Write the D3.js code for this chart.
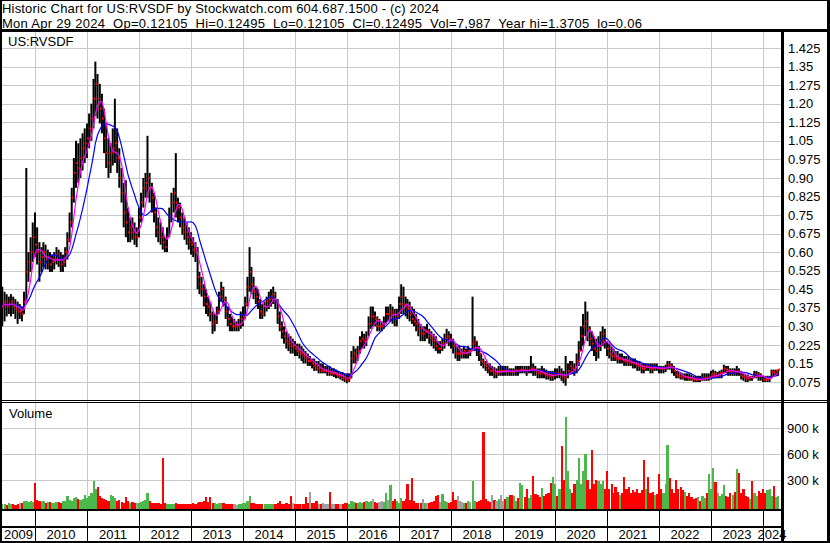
<!DOCTYPE html>
<html><head><meta charset="utf-8">
<script src="https://cdn.jsdelivr.net/npm/d3@7"></script>
<style>body{margin:0;background:#fff}svg{display:block;font-family:"Liberation Sans",Arial,sans-serif}</style>
</head><body><svg id="c" width="830" height="543"></svg>
<script>
const title1 = "Historic Chart for US:RVSDF by Stockwatch.com 604.687.1500 - (c) 2024";
const title2 = "Mon Apr 29 2024  Op=0.12105  Hi=0.12495  Lo=0.12105  Cl=0.12495  Vol=7,987  Year hi=1.3705  lo=0.06";
const symbol = "US:RVSDF";
const volumeTitle = "Volume";
const years = [2009,2010,2011,2012,2013,2014,2015,2016,2017,2018,2019,2020,2021,2022,2023,2024];
const priceTicks = [0.075,0.15,0.225,0.30,0.375,0.45,0.525,0.60,0.675,0.75,0.825,0.90,0.975,1.05,1.125,1.20,1.275,1.35,1.425];
const priceTickLabels = ["0.075","0.15","0.225","0.30","0.375","0.45","0.525","0.60","0.675","0.75","0.825","0.90","0.975","1.05","1.125","1.20","1.275","1.35","1.425"];
const volTicks = [300,600,900];
const volTickLabels = ["300 k","600 k","900 k"];
// half-month periods from 2009-05-16 to 2024-04-16
const firstPeriod = [2009, 4, 16];
const lastPeriod = [2024, 3, 16];

const high = [
.46,.44,.43,.42,.43,.42,.41,.40,.39,.38,.44,.94,.60,.66,.72,
.76,.70,.64,.62,.64,.63,.61,.60,.59,.60,.62,.61,.60,.59,.62,.68,.76,.86,.98,1.05,1.04,1.06,1.08,1.10,
1.12,1.16,1.20,1.30,1.37,1.32,1.28,1.24,1.18,1.12,1.06,1.04,1.10,1.22,1.10,1.02,.94,.88,.89,.78,.74,.74,.72,.70,
.78,.84,.90,.92,1.07,.92,.88,.84,.78,.74,.72,.70,.66,.70,.78,.84,.86,1.00,.82,.80,.76,.74,.72,.70,
.68,.66,.64,.62,.52,.50,.47,.45,.42,.40,.36,.35,.38,.44,.48,.46,.42,.38,.35,.34,.33,.32,.33,.36,
.38,.42,.50,.62,.54,.50,.46,.45,.41,.39,.40,.42,.44,.45,.46,.44,.41,.36,.32,.30,.28,.27,.26,.25,
.24,.23,.23,.22,.21,.20,.19,.18,.17,.17,.16,.16,.15,.15,.14,.14,.14,.13,.13,.125,.12,.115,.115,.11,
.11,.11,.20,.22,.21,.22,.26,.28,.27,.28,.34,.38,.38,.36,.34,.33,.32,.34,.38,.38,.39,.38,.37,.37,
.42,.47,.46,.42,.41,.40,.38,.37,.35,.33,.31,.30,.30,.31,.29,.28,.27,.26,.24,.24,.25,.27,.29,.28,
.27,.25,.23,.22,.22,.21,.22,.21,.22,.21,.42,.26,.24,.22,.19,.17,.16,.15,.15,.14,.135,.13,.14,.14,
.14,.14,.14,.13,.13,.13,.14,.14,.14,.14,.14,.14,.14,.18,.15,.14,.13,.13,.14,.13,.125,.12,.12,.12,
.13,.13,.14,.13,.12,.18,.15,.16,.16,.15,.19,.24,.30,.35,.40,.36,.30,.28,.26,.25,.26,.28,.30,.29,
.24,.23,.22,.21,.20,.20,.19,.19,.18,.18,.18,.17,.17,.17,.16,.16,.15,.15,.15,.15,.15,.15,.15,.15,
.14,.14,.14,.145,.16,.16,.15,.14,.12,.12,.115,.11,.11,.11,.11,.105,.10,.10,.10,.10,.11,.11,.11,.11,
.12,.125,.12,.115,.12,.125,.145,.14,.14,.13,.13,.13,.14,.13,.12,.11,.105,.105,.10,.10,.12,.12,.115,.11,
.10,.10,.10,.10,.125,.125,.125,.125];
const low = [
.30,.32,.34,.35,.34,.35,.33,.31,.33,.32,.35,.40,.48,.52,.56,
.58,.55,.48,.52,.54,.53,.53,.52,.52,.53,.55,.54,.52,.52,.54,.57,.64,.70,.80,.86,.88,.90,.93,.96,
.98,1.02,1.05,1.10,1.15,1.14,1.12,1.08,1.00,.94,.90,.92,.95,.96,.92,.86,.80,.70,.66,.64,.64,.65,.63,.62,
.66,.72,.78,.82,.82,.80,.76,.72,.66,.64,.63,.61,.60,.60,.66,.72,.76,.74,.72,.70,.67,.65,.63,.61,
.59,.58,.56,.45,.43,.42,.38,.35,.34,.32,.27,.28,.31,.35,.40,.38,.33,.30,.28,.28,.28,.28,.28,.29,
.30,.33,.38,.44,.43,.41,.39,.37,.33,.33,.34,.36,.37,.38,.39,.37,.31,.28,.25,.23,.21,.20,.19,.19,
.18,.18,.17,.16,.15,.15,.14,.14,.13,.12,.12,.11,.11,.11,.11,.10,.10,.10,.095,.09,.09,.085,.08,.075,
.07,.075,.09,.15,.15,.16,.19,.21,.21,.22,.26,.29,.30,.30,.28,.28,.28,.29,.31,.32,.32,.31,.30,.30,
.33,.35,.35,.34,.33,.32,.31,.30,.28,.26,.24,.24,.24,.25,.23,.22,.21,.20,.19,.19,.20,.21,.23,.22,
.21,.19,.17,.16,.16,.17,.17,.17,.17,.18,.20,.20,.18,.16,.14,.13,.12,.11,.10,.10,.09,.09,.10,.10,
.10,.10,.10,.10,.10,.10,.10,.10,.11,.11,.11,.10,.11,.11,.10,.10,.09,.09,.09,.09,.085,.085,.08,.08,
.085,.09,.09,.08,.07,.06,.09,.11,.11,.10,.11,.14,.20,.22,.26,.24,.22,.20,.18,.16,.17,.20,.22,.21,
.18,.17,.16,.16,.16,.15,.15,.15,.14,.14,.14,.14,.13,.13,.12,.12,.11,.11,.12,.12,.11,.11,.12,.12,
.11,.11,.11,.115,.125,.125,.11,.10,.09,.09,.085,.085,.08,.08,.08,.08,.075,.075,.075,.075,.08,.08,.08,.08,
.085,.09,.09,.09,.09,.09,.11,.11,.10,.10,.10,.10,.10,.10,.085,.08,.075,.075,.08,.08,.09,.09,.08,.08,
.075,.075,.075,.075,.09,.095,.10,.10];
const close = [
.38,.40,.38,.39,.40,.38,.37,.36,.36,.35,.40,.52,.56,.60,.66,
.63,.60,.56,.58,.60,.57,.58,.55,.56,.57,.59,.57,.55,.56,.60,.65,.72,.82,.92,.96,.94,.98,1.02,1.04,
1.06,1.10,1.14,1.22,1.28,1.22,1.18,1.14,1.06,1.00,.96,1.00,1.02,1.04,.98,.90,.84,.76,.72,.68,.70,.68,.66,.66,
.74,.80,.86,.88,.90,.86,.82,.76,.70,.68,.66,.64,.62,.66,.74,.80,.84,.80,.78,.74,.70,.68,.66,.64,
.63,.61,.60,.50,.47,.45,.42,.39,.38,.35,.31,.32,.36,.42,.45,.41,.36,.33,.31,.30,.30,.30,.31,.33,
.34,.39,.46,.52,.47,.44,.42,.40,.36,.35,.38,.40,.41,.42,.43,.40,.34,.30,.28,.26,.24,.23,.22,.22,
.21,.20,.19,.19,.18,.17,.16,.16,.15,.14,.13,.13,.12,.12,.12,.12,.11,.11,.11,.105,.10,.10,.09,.085,
.08,.09,.17,.19,.18,.20,.24,.25,.24,.25,.31,.34,.34,.33,.30,.30,.30,.31,.35,.35,.36,.35,.33,.34,
.39,.42,.39,.38,.37,.35,.33,.32,.31,.29,.27,.27,.28,.28,.26,.25,.24,.22,.21,.21,.23,.25,.26,.25,
.24,.22,.19,.19,.19,.19,.20,.19,.20,.20,.23,.24,.21,.19,.16,.15,.14,.13,.12,.12,.11,.11,.12,.12,
.12,.118,.121,.117,.115,.119,.122,.12,.123,.125,.121,.118,.124,.13,.126,.12,.112,.109,.113,.108,.102,.10,.098,.101,
.11,.108,.11,.10,.09,.10,.12,.14,.13,.125,.16,.20,.26,.30,.32,.29,.25,.23,.21,.20,.22,.24,.27,.25,
.21,.19,.18,.178,.17,.168,.17,.165,.16,.158,.155,.153,.15,.148,.14,.138,.13,.128,.14,.137,.13,.128,.135,.133,
.13,.128,.13,.132,.145,.14,.13,.12,.105,.10,.095,.094,.096,.093,.09,.088,.085,.083,.086,.084,.09,.092,.089,.095,
.105,.11,.10,.10,.11,.112,.13,.125,.12,.115,.116,.114,.12,.115,.10,.095,.09,.088,.095,.093,.105,.107,.10,.098,
.085,.083,.086,.09,.115,.113,.12,.125];
// volume in thousands of shares
const volume = [
20,25,15,30,20,25,15,20,35,40,60,55,45,60,50,
265,70,60,45,55,40,50,45,35,40,50,45,40,55,60,110,70,60,90,100,80,70,80,130,
90,110,150,290,200,220,120,90,80,70,60,130,120,90,60,70,50,40,100,60,40,50,30,40,
40,50,60,70,155,60,40,30,35,30,25,555,30,25,20,25,20,30,25,20,20,25,20,20,
25,30,25,40,45,50,60,100,50,100,40,30,25,30,40,30,25,20,20,25,20,15,20,25,
30,40,60,110,40,30,25,20,20,25,20,20,20,25,20,20,30,60,25,20,30,20,120,30,
20,25,20,20,25,100,30,160,40,30,60,25,20,30,25,20,160,25,20,20,25,20,25,30,
30,25,60,50,40,40,50,40,45,60,50,60,80,50,40,50,60,50,150,70,240,60,80,60,
40,90,60,80,250,70,320,60,40,30,30,80,40,35,30,50,60,120,130,50,140,60,50,40,
50,160,70,120,60,50,40,40,60,50,290,60,50,60,70,850,80,60,50,130,70,60,80,125,
60,80,100,130,130,120,60,90,270,240,100,200,90,130,350,140,130,100,210,120,140,150,270,330,
250,120,200,690,300,1030,400,200,150,250,300,550,250,400,600,300,200,650,250,300,290,250,290,200,
400,200,250,150,220,160,130,150,330,200,220,150,180,160,200,150,180,530,200,330,150,160,130,140,
370,200,150,250,700,320,200,150,300,200,220,180,160,120,150,100,80,90,100,60,120,90,150,370,
200,440,280,150,120,140,240,120,100,150,130,160,430,380,150,200,120,100,80,290,150,120,170,150,
200,150,180,200,120,230,100,110];

// build period dates (1st and 16th of each month)
const dates = [];
for (let y = firstPeriod[0]; y <= lastPeriod[0]; y++) for (let m = 0; m < 12; m++) for (const d of [1,16]) {
  const dt = new Date(y, m, d);
  if (dt >= new Date(...firstPeriod) && dt <= new Date(...lastPeriod)) dates.push(dt);
}
const data = dates.map((d,i)=>({date:d, high:high[i], low:low[i], close:close[i], volume:volume[i]}));
function sma(n){ return data.map((d,i)=>{ const s=data.slice(Math.max(0,i-n+1), i+1); return {date:d.date, v:d3.mean(s,e=>e.close)}; }); }
const maFast = sma(5), maSlow = sma(12);

const svg = d3.select("#c");
const L = 2, R = 781, PT = 32, PB = 400, VT = 403, VB = 509;
const x = d3.scaleTime().domain([new Date(2010,0,1), new Date(2024,0,1)]).range([35,763]);
const yP = d3.scaleLinear().domain([0,1.425]).range([400.55,48]);
const yV = d3.scaleLinear().domain([0,900]).range([506,428]);
const grid = "#c8c8c8";

svg.append("rect").attr("width",830).attr("height",543).attr("fill","#fff");
svg.append("defs").append("clipPath").attr("id","pc").append("rect").attr("x",L).attr("y",PT).attr("width",R-L).attr("height",PB-PT);
svg.append("defs").append("clipPath").attr("id","vc").append("rect").attr("x",L).attr("y",VT).attr("width",R-L).attr("height",VB-VT);

const yearStarts = years.slice(1).map(y=>new Date(y,0,1));
// grid
const g = svg.append("g").attr("shape-rendering","crispEdges");
g.selectAll(".vg").data(yearStarts).join("line").attr("x1",d=>Math.round(x(d))+0.5).attr("x2",d=>Math.round(x(d))+0.5).attr("y1",PT).attr("y2",VB).attr("stroke",grid);
g.selectAll(".hg").data(priceTicks).join("line").attr("x1",L).attr("x2",R).attr("y1",d=>Math.round(yP(d))+0.5).attr("y2",d=>Math.round(yP(d))+0.5).attr("stroke",grid);
g.selectAll(".vvg").data(volTicks).join("line").attr("x1",L).attr("x2",R).attr("y1",d=>Math.round(yV(d))+0.5).attr("y2",d=>Math.round(yV(d))+0.5).attr("stroke",grid);

// price bars
const pg = svg.append("g").attr("clip-path","url(#pc)");
pg.selectAll(".bar").data(data).join("line").attr("x1",d=>x(d.date)).attr("x2",d=>x(d.date)).attr("y1",d=>yP(d.high)).attr("y2",d=>yP(d.low)).attr("stroke","#000").attr("stroke-width",2);
pg.selectAll(".cl").data(data).join("rect").attr("x",d=>x(d.date)).attr("y",d=>yP(d.close)-1).attr("width",2).attr("height",2).attr("fill","#ff0000");
const line = d3.line().x(d=>x(d.date)).y(d=>yP(d.v));
pg.append("path").datum(maSlow).attr("d",line).attr("fill","none").attr("stroke","#0000ff").attr("stroke-width",1.2);
pg.append("path").datum(maFast).attr("d",line).attr("fill","none").attr("stroke","#ff00ff").attr("stroke-width",1.2);

// volume bars
const vg = svg.append("g").attr("clip-path","url(#vc)").attr("shape-rendering","crispEdges");
vg.selectAll("rect").data(data).join("rect")
  .attr("x",d=>x(d.date)-1).attr("width",2.2)
  .attr("y",d=>yV(d.volume)).attr("height",d=>508.5-yV(d.volume))
  .attr("fill",(d,i)=>{ if(i===0) return "#4cb84c"; const p=data[i-1].close; return d.close>p?"#4cb84c":d.close<p?"#ff0000":"#a0a0a0"; });

// frame lines
const f = svg.append("g").attr("shape-rendering","crispEdges").attr("fill","#000");
f.append("rect").attr("x",0).attr("y",0).attr("width",830).attr("height",1);
f.append("rect").attr("x",0).attr("y",0).attr("width",2).attr("height",543);
f.append("rect").attr("x",827).attr("y",0).attr("width",3).attr("height",543);
f.append("rect").attr("x",0).attr("y",541).attr("width",830).attr("height",2);
f.append("rect").attr("x",0).attr("y",29).attr("width",830).attr("height",3);
f.append("rect").attr("x",0).attr("y",400).attr("width",830).attr("height",1);
f.append("rect").attr("x",0).attr("y",402).attr("width",830).attr("height",1);
f.append("rect").attr("x",781).attr("y",29).attr("width",3).attr("height",514);
f.append("rect").attr("x",0).attr("y",509).attr("width",783).attr("height",2);
f.append("rect").attr("x",0).attr("y",526).attr("width",783).attr("height",2);
f.selectAll(".yt").data(yearStarts).join("rect").attr("x",d=>Math.round(x(d))).attr("y",511).attr("width",1).attr("height",30);

// texts
const t = svg.append("g").attr("font-size",13).attr("fill","#000");
t.append("text").attr("x",2).attr("y",13).attr("textLength",437).attr("lengthAdjust","spacing").text(title1);
t.append("text").attr("x",2).attr("y",27.5).attr("textLength",640).attr("lengthAdjust","spacing").style("white-space","pre").text(title2);
t.append("text").attr("x",8).attr("y",46).text(symbol);
t.append("text").attr("x",9).attr("y",418).text(volumeTitle);

const pa = svg.append("g").attr("transform",`translate(${R+2},0)`)
  .call(d3.axisRight(yP).tickValues(priceTicks).tickFormat((d,i)=>priceTickLabels[i]).tickSize(0).tickPadding(5));
const va = svg.append("g").attr("transform",`translate(${R+2},0)`)
  .call(d3.axisRight(yV).tickValues(volTicks).tickFormat((d,i)=>volTickLabels[i]).tickSize(0).tickPadding(4));
[pa,va].forEach(a=>{a.select(".domain").remove(); a.selectAll("text").attr("font-size",13).attr("font-family","'Liberation Sans',Arial,sans-serif").attr("fill","#000");});

const bounds = [L, ...yearStarts.map(d=>x(d)), R];
t.selectAll(".yl").data(years).join("text").attr("x",(d,i)=>(bounds[i]+bounds[i+1])/2).attr("y",539).attr("text-anchor","middle").text(d=>d);
</script></body></html>
